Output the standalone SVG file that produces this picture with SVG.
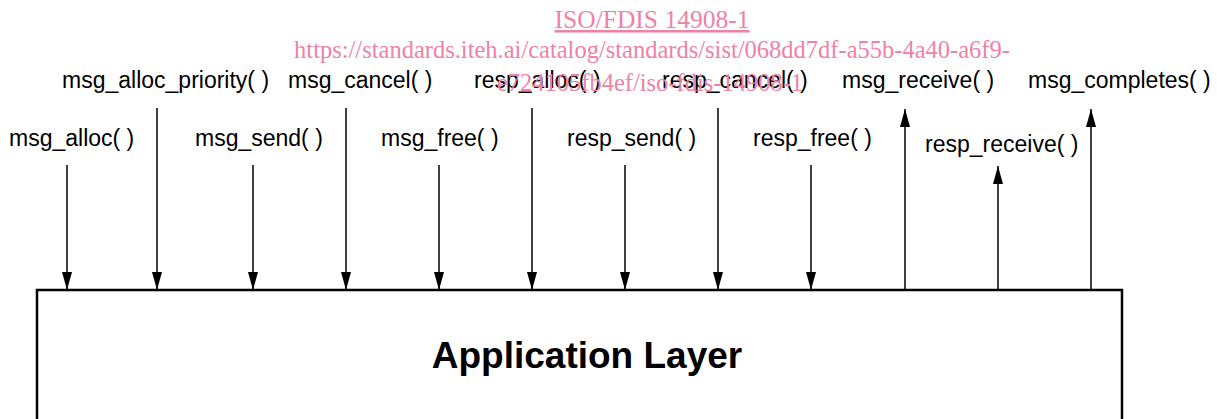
<svg xmlns="http://www.w3.org/2000/svg" width="1217" height="419" viewBox="0 0 1217 419">
<style>
.lbl{font-family:"Liberation Sans",Arial,sans-serif;font-size:23px;fill:#000}
.title{font-family:"Liberation Sans",Arial,sans-serif;font-size:37px;font-weight:bold;fill:#000}
.wm{font-family:"Liberation Serif","Times New Roman",serif;font-size:24.5px;fill:#ee82a6}
.c{stroke:#000;stroke-width:1.5;fill:none}
</style>
<defs>
<marker id="ah" viewBox="0 0 18 10" refX="18" refY="5" markerWidth="18" markerHeight="10" markerUnits="userSpaceOnUse" orient="auto">
<path d="M0,0 L18,5 L0,10 Z" fill="#000"/>
</marker>
</defs>
<rect width="1217" height="419" fill="#fff"/>
<g id="app-layer">
<path d="M37,420 V290 H1122 V420" fill="#fff" stroke="#000" stroke-width="2.5"/>
<text class="title" x="587" y="368" text-anchor="middle">Application Layer</text>
</g>
<g id="connectors">
<line class="c" x1="67" y1="165" x2="67" y2="290" marker-end="url(#ah)"/>
<line class="c" x1="157" y1="108" x2="157" y2="290" marker-end="url(#ah)"/>
<line class="c" x1="253" y1="165" x2="253" y2="290" marker-end="url(#ah)"/>
<line class="c" x1="346" y1="108" x2="346" y2="290" marker-end="url(#ah)"/>
<line class="c" x1="439" y1="165" x2="439" y2="290" marker-end="url(#ah)"/>
<line class="c" x1="532" y1="108" x2="532" y2="290" marker-end="url(#ah)"/>
<line class="c" x1="625" y1="165" x2="625" y2="290" marker-end="url(#ah)"/>
<line class="c" x1="718" y1="108" x2="718" y2="290" marker-end="url(#ah)"/>
<line class="c" x1="811" y1="165" x2="811" y2="290" marker-end="url(#ah)"/>
<line class="c" x1="905" y1="290" x2="905" y2="109" marker-end="url(#ah)"/>
<line class="c" x1="998" y1="290" x2="998" y2="166" marker-end="url(#ah)"/>
<line class="c" x1="1091" y1="290" x2="1091" y2="109" marker-end="url(#ah)"/>
</g>
<g id="labels">
<text class="lbl" x="9" y="146">msg_alloc( )</text>
<text class="lbl" x="62" y="88">msg_alloc_priority( )</text>
<text class="lbl" x="195" y="146">msg_send( )</text>
<text class="lbl" x="288" y="88">msg_cancel( )</text>
<text class="lbl" x="381" y="146">msg_free( )</text>
<text class="lbl" x="474" y="88">resp_alloc( )</text>
<text class="lbl" x="567" y="146">resp_send( )</text>
<text class="lbl" x="662" y="88">resp_cancel( )</text>
<text class="lbl" x="753" y="146">resp_free( )</text>
<text class="lbl" x="842" y="88">msg_receive( )</text>
<text class="lbl" x="925" y="152">resp_receive( )</text>
<text class="lbl" x="1028" y="88">msg_completes( )</text>
</g>
<g id="watermark">
<text class="wm" x="652" y="28" text-anchor="middle" text-decoration="underline" style="font-size:25.5px">ISO/FDIS 14908-1</text>
<text class="wm" x="652" y="58" text-anchor="middle">https://standards.iteh.ai/catalog/standards/sist/068dd7df-a55b-4a40-a6f9-</text>
<text class="wm" x="650" y="91" text-anchor="middle">e724105fb4ef/iso-fdis-14908-1</text>
</g>
</svg>
